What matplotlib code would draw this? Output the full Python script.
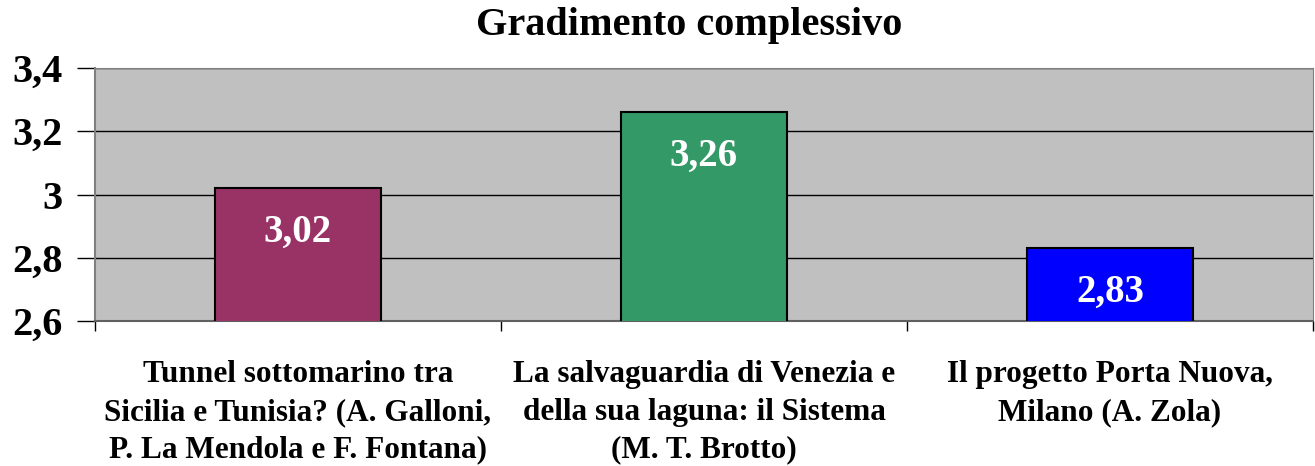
import numpy as np
import matplotlib.pyplot as plt
from matplotlib.ticker import FixedLocator

# Dati
categorie = ['Tunnel sottomarino tra\nSicilia e Tunisia? (A. Galloni,\nP. La Mendola e F. Fontana)',
             'La salvaguardia di Venezia e\ndella sua laguna: il Sistema\n(M. T. Brotto)',
             'Il progetto Porta Nuova,\nMilano (A. Zola)']
valori = [3.02, 3.26, 2.83]
etichette = ['3,02', '3,26', '2,83']
colori = ['#993366', '#339966', '#0000FF']
yticks = [2.6, 2.8, 3.0, 3.2, 3.4]
ytick_lab = ['2,6', '2,8', '3', '3,2', '3,4']

plt.rcParams['font.family'] = ['Liberation Serif', 'DejaVu Serif']
plt.rcParams['font.weight'] = 'bold'

fig = plt.figure(figsize=(13.15, 4.66), dpi=100)
ax = fig.add_axes([0.0722, 0.311, 0.9263, 0.543])
ax.set_facecolor('#C0C0C0')

x = np.arange(len(valori))
ax.bar(x, valori, width=0.41, color=colori, edgecolor='black', linewidth=1.5, zorder=3)
for xi, v, t in zip(x, valori, etichette):
    ax.text(xi, v - 0.14, t, ha='center', va='center', color='white',
            fontsize=28, fontweight='bold', zorder=4)

ax.set_xlim(-0.5, 2.5)
ax.set_ylim(2.6, 3.4)
ax.set_yticks(yticks)
ax.set_yticklabels(ytick_lab, fontsize=29, fontweight='bold')
ax.yaxis.grid(True, color='black', linewidth=1)
ax.set_axisbelow(True)
ax.tick_params(axis='y', length=13, width=1, pad=10)

ax.set_xticks(x)
ax.set_xticklabels(categorie, fontsize=22.5, fontweight='bold', linespacing=1.4)
ax.tick_params(axis='x', which='major', length=0, pad=28)
ax.xaxis.set_minor_locator(FixedLocator([-0.5, 0.5, 1.5, 2.5]))
ax.tick_params(axis='x', which='minor', length=7, width=1)

for s in ['top', 'right']:
    ax.spines[s].set_color('#808080')
ax.spines['left'].set_color('#808080')
ax.spines['left'].set_linewidth(1.5)
ax.spines['bottom'].set_color('#606060')
ax.spines['bottom'].set_linewidth(1.5)

fig.text(0.524, 0.946, 'Gradimento complessivo', ha='center', va='center',
         fontsize=29, fontweight='bold')

fig.savefig('out.png', dpi=100)
